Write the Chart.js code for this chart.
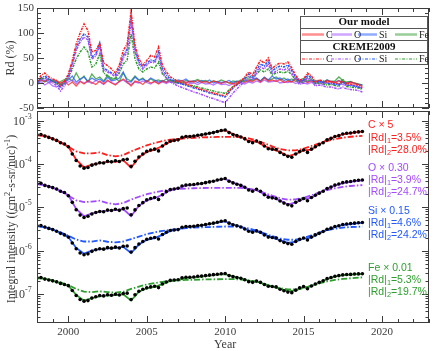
<!DOCTYPE html>
<html>
<head>
<meta charset="utf-8">
<script src="https://cdn.jsdelivr.net/npm/chart.js@4/dist/chart.umd.min.js"></script>
<style>
html, body { margin: 0; padding: 0; background: #fff; }
#wrap { position: relative; width: 436px; height: 351px; }
#wrap canvas { position: absolute; left: 0; top: 0; }
</style>
</head>
<body>
<div id="wrap">
  <canvas id="lower" width="436" height="351"></canvas>
  <canvas id="upper" width="436" height="351"></canvas>
</div>
<script>
// time grids (quarterly for observations / Rd, half-yearly for model curves)
const QUARTERS = Array.from({length: 84}, (_, i) => 1998 + i * 0.25);
const HALVES = Array.from({length: 42}, (_, i) => 1998 + i * 0.5).concat([2018.75]);

// ---- upper panel: Rd (%) ----
const RD_C_MODEL = [4, 6, 3, 8, 2, 5, 0, 4, -4, 2, -6, 3, -2, 5, 1, -3, 4, -2, 6, 0, -4, 3, 8, 2,
  -6, 4, 2, -3, 5, 0, 3, -2, 4, 1, 6, 2, 3, 5, 0, 4, 2, 5, 1, 3, 0, 4, 2, -1,
  3, 0, -2, 2, 4, 1, 5, 3, 8, 2, 10, 4, 6, 3, 7, 1, 4, 2, 8, 3, 5, 1, 4, 2,
  3, 0, 5, 2, 1, 4, 2, -1, 2, 0, -3, -6];
const RD_O_MODEL = [-2, 3, -4, 1, -6, -8, -3, 0, 2, 6, -2, 4, 0, 3, -1, 5, 2, -3, 4, 1, -2, 3, 6, 0,
  -3, 2, 0, 4, 1, -2, 3, 0, 2, -1, 3, 0, 1, -2, 2, -1, 0, -3, 1, -2, -1, -4, 0, -3,
  -2, -5, -1, -3, 0, -2, 2, 0, 4, 1, 6, 2, 3, 5, 0, 2, 1, 3, -1, 2, 0, -2, 1, -1,
  0, -3, 1, -2, -4, -1, -3, -5, -4, -6, -8, -10];
const RD_SI_MODEL = [2, 8, 5, 1, 6, 3, -2, 4, 6, 14, 2, 8, 12, 3, 10, 5, 8, 2, 12, 4, 6, 10, 22, 3,
  2, 12, 5, 8, 3, 10, 6, 2, 5, 2, 7, 3, 6, 4, 8, 2, 4, 1, 5, 2, 6, 0, 3, 1,
  2, 5, 0, 4, 1, 6, 3, 8, 10, 4, 12, 6, 14, 8, 10, 5, 8, 3, 10, 4, 6, 2, 5, 3,
  4, 1, 6, 3, 2, 5, 1, 0, 2, -1, -3, -4];
const RD_FE_MODEL = [0, 6, 2, 8, 4, -2, 3, 7, 10, 4, 20, 6, 14, 2, 18, 8, 12, 4, 16, 6, 10, 3, 20, 8,
  4, 14, 6, 10, 2, 8, 4, 6, 3, 8, 2, 6, 4, 1, 5, 2, 4, 7, 3, 5, 1, 4, 2, 6,
  3, 0, 4, 2, 6, 3, 8, 5, 9, 4, 11, 6, 8, 12, 6, 10, 5, 8, 3, 6, 9, 4, 7, 3,
  5, 2, 6, 3, 4, 12, 5, 2, 3, 0, -2, -4];

const RD_C_CREME = [2, 15, 20, 12, 8, 5, -6, 3, 18, 45, 78, 100, 118, 105, 62, 65,
  80, 40, 35, 28, 20, 36, 65, 78, 143, 75, 48, 36, 45, 55, 52, 72,
  35, 22, 12, 8, 2, 1, -2, -5, -8, -10, -13, -15, -18, -20, -22, -24,
  -26, -16, -8, -2, 4, 12, 22, 16, 32, 45, 40, 50, 29, 36, 40, 38,
  42, 30, 15, 6, 8, 20, 14, 3, 6, 4, 2, 3, 1, -2, 4, -1, -2, -3, -5, -9];
const RD_O_CREME = [-4, 6, 10, 4, 0, -5, -16, -6, 10, 35, 65, 82, 92, 86, 48, 54,
  74, 26, 22, 18, 12, 26, 50, 62, 122, 62, 38, 28, 36, 42, 40, 56,
  22, 10, 2, -2, -6, -9, -12, -15, -18, -20, -23, -26, -29, -31, -34, -37,
  -39, -30, -20, -12, -4, 4, 12, 6, 20, 32, 28, 38, 18, 24, 28, 26,
  30, 20, 6, -3, 0, 10, 4, -6, -4, -6, -8, -8, -10, -12, -8, -12, -13, -14, -15, -18];
const RD_SI_CREME = [0, 10, 14, 8, 4, 0, -10, 0, 15, 40, 70, 88, 98, 92, 52, 58,
  80, 30, 25, 20, 16, 30, 55, 68, 132, 68, 42, 32, 40, 46, 44, 62,
  28, 16, 8, 4, 0, -2, -5, -7, -10, -12, -15, -17, -20, -22, -24, -26,
  -28, -19, -10, -4, 2, 10, 18, 12, 26, 38, 34, 44, 24, 30, 34, 32,
  36, 25, 12, 3, 5, 16, 10, 0, 3, 1, -1, 0, -2, -4, 2, -4, -5, -6, -8, -12];
const RD_FE_CREME = [2, 8, 10, 6, 4, 2, -5, 2, 10, 28, 48, 62, 72, 62, 32, 38,
  58, 20, 14, 10, 8, 20, 38, 46, 98, 48, 28, 22, 28, 32, 30, 42,
  18, 10, 5, 2, 0, -1, -3, -4, -6, -8, -10, -12, -14, -16, -18, -19,
  -21, -14, -7, -2, 2, 8, 14, 10, 18, 26, 22, 28, 16, 20, 22, 20,
  24, 16, 6, 0, 2, 12, 6, -2, 0, -2, -4, -3, -5, -7, 8, -7, -8, -9, -10, -13];

// ---- lower panel: integral intensity (scaled) ----
const C_OBS = [4.7e-4, 4.8e-4, 4.4e-4, 4.1e-4, 3.8e-4, 3.5e-4, 3.1e-4, 2.9e-4,
  2.5e-4, 1.7e-4, 1.2e-4, 9.0e-5, 8.0e-5, 8.3e-5, 9.4e-5, 1.0e-4,
  1.07e-4, 1.05e-4, 1.15e-4, 1.12e-4, 1.19e-4, 1.14e-4, 1.25e-4, 1.28e-4,
  8.8e-5, 1.15e-4, 1.45e-4, 1.7e-4, 1.95e-4, 2.1e-4, 2.2e-4, 2.0e-4,
  2.6e-4, 3.0e-4, 3.35e-4, 3.5e-4, 3.6e-4, 4.1e-4, 4.3e-4, 4.3e-4,
  4.4e-4, 4.6e-4, 4.7e-4, 4.9e-4, 5.1e-4, 5.3e-4, 5.6e-4, 5.9e-4,
  6.1e-4, 5.3e-4, 4.8e-4, 4.5e-4, 4.2e-4, 3.8e-4, 3.3e-4, 3.1e-4,
  3.4e-4, 3.1e-4, 2.6e-4, 2.25e-4, 2.2e-4, 2.15e-4, 1.85e-4, 1.65e-4,
  1.5e-4, 1.43e-4, 1.7e-4, 1.93e-4, 2.1e-4, 1.85e-4, 2.2e-4, 2.5e-4,
  2.8e-4, 3.1e-4, 3.6e-4, 3.9e-4, 4.3e-4, 4.5e-4, 4.9e-4, 5.1e-4,
  5.2e-4, 5.4e-4, 5.5e-4, 5.6e-4];
const O_OBS = [3.5e-5, 3.6e-5, 3.2e-5, 3.0e-5, 2.85e-5, 2.65e-5, 2.35e-5, 2.2e-5,
  1.85e-5, 1.3e-5, 8.8e-6, 6.6e-6, 5.8e-6, 6.2e-6, 7.0e-6, 7.6e-6,
  8.0e-6, 7.9e-6, 8.6e-6, 8.4e-6, 9.0e-6, 8.5e-6, 9.3e-6, 9.6e-6,
  6.7e-6, 8.7e-6, 1.1e-5, 1.28e-5, 1.48e-5, 1.6e-5, 1.68e-5, 1.52e-5,
  1.95e-5, 2.3e-5, 2.55e-5, 2.65e-5, 2.75e-5, 3.1e-5, 3.25e-5, 3.3e-5,
  3.35e-5, 3.5e-5, 3.55e-5, 3.7e-5, 3.85e-5, 4.0e-5, 4.25e-5, 4.45e-5,
  4.6e-5, 4.0e-5, 3.65e-5, 3.4e-5, 3.2e-5, 2.9e-5, 2.5e-5, 2.35e-5,
  2.6e-5, 2.35e-5, 1.95e-5, 1.7e-5, 1.65e-5, 1.6e-5, 1.4e-5, 1.25e-5,
  1.14e-5, 1.08e-5, 1.3e-5, 1.46e-5, 1.6e-5, 1.42e-5, 1.68e-5, 1.9e-5,
  2.12e-5, 2.35e-5, 2.7e-5, 2.95e-5, 3.25e-5, 3.45e-5, 3.7e-5, 3.85e-5,
  3.95e-5, 4.1e-5, 4.2e-5, 4.25e-5];
const SI_OBS = [3.75e-6, 3.8e-6, 3.5e-6, 3.25e-6, 3.05e-6, 2.8e-6, 2.5e-6, 2.3e-6,
  2.05e-6, 1.5e-6, 1.1e-6, 8.8e-7, 8.0e-7, 8.4e-7, 9.6e-7, 1.05e-6,
  1.1e-6, 1.08e-6, 1.17e-6, 1.14e-6, 1.2e-6, 1.15e-6, 1.26e-6, 1.28e-6,
  9.3e-7, 1.17e-6, 1.42e-6, 1.62e-6, 1.82e-6, 1.92e-6, 2.0e-6, 1.85e-6,
  2.35e-6, 2.65e-6, 2.9e-6, 3.0e-6, 3.05e-6, 3.45e-6, 3.6e-6, 3.6e-6,
  3.65e-6, 3.8e-6, 3.85e-6, 4.0e-6, 4.15e-6, 4.3e-6, 4.5e-6, 4.75e-6,
  4.9e-6, 4.3e-6, 3.95e-6, 3.75e-6, 3.5e-6, 3.15e-6, 2.8e-6, 2.65e-6,
  2.85e-6, 2.65e-6, 2.3e-6, 2.05e-6, 2.0e-6, 1.95e-6, 1.7e-6, 1.55e-6,
  1.45e-6, 1.4e-6, 1.62e-6, 1.82e-6, 1.95e-6, 1.75e-6, 2.05e-6, 2.3e-6,
  2.5e-6, 2.75e-6, 3.1e-6, 3.3e-6, 3.6e-6, 3.75e-6, 4.0e-6, 4.1e-6,
  4.2e-6, 4.3e-6, 4.4e-6, 4.45e-6];
const FE_OBS = [2.35e-7, 2.4e-7, 2.2e-7, 2.1e-7, 2.0e-7, 1.9e-7, 1.75e-7, 1.65e-7,
  1.55e-7, 1.2e-7, 9.2e-8, 7.4e-8, 6.8e-8, 7.0e-8, 8.0e-8, 8.6e-8,
  9.2e-8, 9.0e-8, 9.6e-8, 9.3e-8, 9.8e-8, 9.4e-8, 1.02e-7, 1.04e-7,
  7.4e-8, 9.6e-8, 1.15e-7, 1.28e-7, 1.38e-7, 1.45e-7, 1.5e-7, 1.4e-7,
  1.7e-7, 1.88e-7, 2.05e-7, 2.1e-7, 2.12e-7, 2.35e-7, 2.42e-7, 2.42e-7,
  2.45e-7, 2.55e-7, 2.58e-7, 2.65e-7, 2.72e-7, 2.78e-7, 2.85e-7, 2.92e-7,
  2.95e-7, 2.65e-7, 2.5e-7, 2.4e-7, 2.3e-7, 2.12e-7, 1.92e-7, 1.85e-7,
  1.98e-7, 1.85e-7, 1.65e-7, 1.5e-7, 1.48e-7, 1.45e-7, 1.28e-7, 1.18e-7,
  1.1e-7, 1.07e-7, 1.22e-7, 1.38e-7, 1.48e-7, 1.32e-7, 1.52e-7, 1.7e-7,
  1.85e-7, 2.0e-7, 2.25e-7, 2.4e-7, 2.55e-7, 2.65e-7, 2.75e-7, 2.8e-7,
  2.82e-7, 2.88e-7, 2.9e-7, 2.92e-7];

const C_MODEL = [4.6e-4, 4.5e-4, 3.8e-4, 3.2e-4, 2.5e-4, 1.25e-4, 8.3e-5, 9.6e-5, 1.05e-4, 1.12e-4, 1.12e-4,
  1.22e-4, 8.2e-5, 1.42e-4, 1.9e-4, 2.15e-4, 2.6e-4, 3.3e-4, 3.65e-4, 4.25e-4, 4.4e-4, 4.7e-4, 5.1e-4,
  5.6e-4, 6.0e-4, 4.9e-4, 4.25e-4, 3.4e-4, 3.3e-4, 2.6e-4, 2.2e-4, 1.9e-4, 1.5e-4, 1.7e-4, 2.05e-4,
  2.15e-4, 2.8e-4, 3.6e-4, 4.25e-4, 4.85e-4, 5.15e-4, 5.5e-4, 5.55e-4];
const O_MODEL = [3.45e-5, 3.25e-5, 2.8e-5, 2.4e-5, 1.9e-5, 9.2e-6, 6.2e-6, 7.2e-6, 7.9e-6, 8.4e-6, 8.6e-6,
  9.1e-6, 6.2e-6, 1.08e-5, 1.45e-5, 1.62e-5, 1.95e-5, 2.5e-5, 2.75e-5, 3.2e-5, 3.3e-5, 3.5e-5, 3.85e-5,
  4.2e-5, 4.5e-5, 3.7e-5, 3.25e-5, 2.6e-5, 2.5e-5, 1.97e-5, 1.68e-5, 1.42e-5, 1.15e-5, 1.3e-5, 1.55e-5,
  1.65e-5, 2.1e-5, 2.7e-5, 3.15e-5, 3.6e-5, 3.85e-5, 4.1e-5, 4.2e-5];
const SI_MODEL = [3.7e-6, 3.45e-6, 3.1e-6, 2.55e-6, 2.05e-6, 1.15e-6, 8.5e-7, 1.0e-6, 1.08e-6, 1.12e-6, 1.15e-6,
  1.22e-6, 8.8e-7, 1.38e-6, 1.78e-6, 1.95e-6, 2.3e-6, 2.85e-6, 3.1e-6, 3.5e-6, 3.6e-6, 3.8e-6, 4.1e-6,
  4.4e-6, 4.7e-6, 4.0e-6, 3.55e-6, 2.9e-6, 2.8e-6, 2.35e-6, 2.0e-6, 1.75e-6, 1.5e-6, 1.6e-6, 1.9e-6,
  2.0e-6, 2.5e-6, 3.05e-6, 3.5e-6, 3.9e-6, 4.1e-6, 4.3e-6, 4.35e-6];
const FE_MODEL = [2.3e-7, 2.25e-7, 2.0e-7, 1.78e-7, 1.55e-7, 9.5e-8, 7.0e-8, 8.0e-8, 8.8e-8, 9.2e-8, 9.4e-8,
  9.8e-8, 7.0e-8, 1.12e-7, 1.35e-7, 1.45e-7, 1.68e-7, 2.0e-7, 2.1e-7, 2.35e-7, 2.4e-7, 2.5e-7, 2.65e-7,
  2.78e-7, 2.85e-7, 2.55e-7, 2.3e-7, 2.0e-7, 1.95e-7, 1.68e-7, 1.5e-7, 1.3e-7, 1.15e-7, 1.2e-7, 1.42e-7,
  1.5e-7, 1.82e-7, 2.2e-7, 2.5e-7, 2.7e-7, 2.78e-7, 2.85e-7, 2.88e-7];

const C_CREME = [4.7e-4, 4.4e-4, 3.8e-4, 3.1e-4, 2.5e-4, 1.95e-4, 1.75e-4, 1.75e-4, 1.85e-4, 1.6e-4, 1.5e-4,
  1.6e-4, 1.95e-4, 2.3e-4, 2.7e-4, 3.05e-4, 3.4e-4, 3.65e-4, 3.8e-4, 3.9e-4, 4.0e-4, 4.1e-4, 4.15e-4,
  4.2e-4, 4.2e-4, 4.2e-4, 4.15e-4, 3.9e-4, 3.5e-4, 3.0e-4, 2.55e-4, 2.2e-4, 2.05e-4, 2.05e-4, 2.25e-4,
  2.6e-4, 3.0e-4, 3.4e-4, 3.75e-4, 4.05e-4, 4.25e-4, 4.4e-4, 4.45e-4];
const O_CREME = [3.5e-5, 3.25e-5, 2.85e-5, 2.35e-5, 1.85e-5, 1.45e-5, 1.32e-5, 1.35e-5, 1.42e-5, 1.25e-5, 1.17e-5,
  1.25e-5, 1.5e-5, 1.75e-5, 2.0e-5, 2.2e-5, 2.4e-5, 2.55e-5, 2.65e-5, 2.7e-5, 2.75e-5, 2.78e-5, 2.8e-5,
  2.82e-5, 2.82e-5, 2.82e-5, 2.8e-5, 2.7e-5, 2.45e-5, 2.15e-5, 1.85e-5, 1.62e-5, 1.5e-5, 1.52e-5, 1.65e-5,
  1.9e-5, 2.2e-5, 2.5e-5, 2.75e-5, 2.95e-5, 3.1e-5, 3.2e-5, 3.25e-5];
const SI_CREME = [3.75e-6, 3.5e-6, 3.1e-6, 2.65e-6, 2.2e-6, 1.8e-6, 1.62e-6, 1.62e-6, 1.72e-6, 1.6e-6, 1.55e-6,
  1.62e-6, 1.85e-6, 2.1e-6, 2.4e-6, 2.65e-6, 2.85e-6, 3.0e-6, 3.15e-6, 3.3e-6, 3.4e-6, 3.45e-6, 3.5e-6,
  3.55e-6, 3.6e-6, 3.6e-6, 3.5e-6, 3.25e-6, 2.9e-6, 2.5e-6, 2.15e-6, 1.9e-6, 1.78e-6, 1.78e-6, 1.95e-6,
  2.25e-6, 2.6e-6, 2.95e-6, 3.2e-6, 3.4e-6, 3.5e-6, 3.55e-6, 3.6e-6];
const FE_CREME = [2.35e-7, 2.25e-7, 2.05e-7, 1.85e-7, 1.6e-7, 1.3e-7, 1.13e-7, 1.1e-7, 1.15e-7, 1.1e-7, 1.07e-7,
  1.12e-7, 1.3e-7, 1.48e-7, 1.65e-7, 1.78e-7, 1.9e-7, 2.0e-7, 2.05e-7, 2.1e-7, 2.12e-7, 2.15e-7, 2.17e-7,
  2.18e-7, 2.2e-7, 2.2e-7, 2.15e-7, 2.05e-7, 1.88e-7, 1.68e-7, 1.5e-7, 1.35e-7, 1.27e-7, 1.27e-7, 1.35e-7,
  1.55e-7, 1.75e-7, 1.95e-7, 2.1e-7, 2.22e-7, 2.3e-7, 2.38e-7, 2.4e-7];

const X_TICKS = [2000, 2005, 2010, 2015, 2020];
const Y_TICKS_RD = [-50, 0, 50, 100, 150];
const Y_DECADES = [-3, -4, -5, -6, -7];
const NOTES = [
  ['C \u00d7 5', '3.5%', '28.0%'],
  ['O \u00d7 0.30', '3.9%', '24.7%'],
  ['Si \u00d7 0.15', '4.6%', '24.2%'],
  ['Fe \u00d7 0.01', '5.3%', '19.7%']
];

// colours
const RED = '#ff1f1f', PURPLE = '#a24bff', BLUE = '#2158ff', GREEN = '#2f9e2f';
const COLORS = [RED, PURPLE, BLUE, GREEN];
const SOFT = ['rgba(255,31,31,0.5)', 'rgba(162,75,255,0.5)', 'rgba(33,88,255,0.5)', 'rgba(47,158,47,0.5)'];
const MODEL_TOP = ['rgba(255,31,31,0.75)', 'rgba(162,75,255,0.75)', 'rgba(33,88,255,0.75)', 'rgba(47,158,47,0.8)'];
const AX = '#3c3c3c';
const SERIF = '"Liberation Serif", "DejaVu Serif", serif';
const SANS = '"Liberation Sans", Arial, sans-serif';

const pts = (xs, ys) => ys.map((v, i) => ({x: xs[i], y: v}));

function seg(ctx, x1, y1, x2, y2) {
  ctx.beginPath(); ctx.moveTo(x1, y1); ctx.lineTo(x2, y2); ctx.stroke();
}

// draws runs of text with sub/superscripts, left aligned
function rich(ctx, parts, x, y, base, family) {
  let cx = x;
  parts.forEach(p => {
    ctx.font = (p.s ? base * 0.7 : base) + 'px ' + family;
    ctx.fillText(p.t, cx, y + (p.s === 'sup' ? -base * 0.35 : p.s === 'sub' ? base * 0.3 : 0));
    cx += ctx.measureText(p.t).width;
  });
  return cx - x;
}
function richWidth(ctx, parts, base, family) {
  let w = 0;
  parts.forEach(p => {
    ctx.font = (p.s ? base * 0.7 : base) + 'px ' + family;
    w += ctx.measureText(p.t).width;
  });
  return w;
}

function frameAndX(ctx, a, xs) {
  ctx.strokeStyle = AX; ctx.lineWidth = 1;
  ctx.strokeRect(Math.round(a.left) + 0.5, Math.round(a.top) + 0.5,
    Math.round(a.right - a.left) - 1, Math.round(a.bottom - a.top) - 1);
  for (let yr = 1998; yr <= 2023; yr++) {
    const px = Math.round(xs.getPixelForValue(yr)) + 0.5;
    const len = yr % 5 === 0 ? 7 : 4;
    seg(ctx, px, a.bottom, px, a.bottom - len);
    seg(ctx, px, a.top, px, a.top + len);
  }
}

const upperDeco = {
  id: 'upperDeco',
  afterDatasetsDraw(chart) {
    const {ctx, chartArea: a, scales: {x, y}} = chart;
    ctx.save();
    frameAndX(ctx, a, x);
    for (let v = -50; v <= 150; v += 10) {
      const py = Math.round(y.getPixelForValue(v)) + 0.5;
      const len = v % 50 === 0 ? 7 : 4;
      seg(ctx, a.left, py, a.left + len, py);
      seg(ctx, a.right, py, a.right - len, py);
    }
    ctx.fillStyle = AX;
    ctx.font = '11px ' + SERIF;
    ctx.textAlign = 'right'; ctx.textBaseline = 'middle';
    Y_TICKS_RD.forEach(v => ctx.fillText(String(v), a.left - 3, y.getPixelForValue(v)));
    ctx.save();
    ctx.translate(11, (a.top + a.bottom) / 2);
    ctx.rotate(-Math.PI / 2);
    ctx.textAlign = 'center';
    ctx.font = '12px ' + SERIF;
    ctx.fillText('Rd (%)', 0, 0);
    ctx.restore();

    // legend table
    const L = 300, R = 428, T = 16;
    ctx.fillStyle = '#fff';
    ctx.fillRect(L, T, R - L, 49);
    ctx.strokeStyle = '#555';
    ctx.strokeRect(L + 0.5, T + 0.5, R - L - 1, 48);
    [28.5, 40.5, 52.5].forEach(ly => seg(ctx, L, ly, R, ly));
    ctx.fillStyle = '#111';
    ctx.textAlign = 'center'; ctx.textBaseline = 'middle';
    ctx.font = 'bold 11px ' + SERIF;
    ctx.fillText('Our model', (L + R) / 2, 22.5);
    ctx.fillText('CREME2009', (L + R) / 2, 47);
    const items = [['C', 302, 324, 326], ['O', 331, 352, 354], ['Si', 358, 377, 379], ['Fe', 395, 417, 419]];
    ctx.font = '10px ' + SERIF;
    ctx.textAlign = 'left';
    items.forEach((it, i) => {
      ctx.setLineDash([]);
      ctx.lineWidth = 2.5; ctx.strokeStyle = SOFT[i];
      seg(ctx, it[1], 34.5, it[2], 34.5);
      ctx.lineWidth = 1; ctx.strokeStyle = COLORS[i];
      ctx.setLineDash([3, 1.5, 1, 1.5]);
      seg(ctx, it[1], 59, it[2], 59);
      ctx.setLineDash([]);
      ctx.fillStyle = '#222';
      ctx.fillText(it[0], it[3], 35);
      ctx.fillText(it[0], it[3], 59.5);
    });
    ctx.restore();
  }
};

const lowerDeco = {
  id: 'lowerDeco',
  afterDatasetsDraw(chart) {
    const {ctx, chartArea: a, scales: {x, y}} = chart;
    ctx.save();
    frameAndX(ctx, a, x);
    for (let e = -8; e <= -3; e++) {
      for (let k = 1; k <= 9; k++) {
        const v = k * Math.pow(10, e);
        if (v < y.min || v > y.max) continue;
        const py = Math.round(y.getPixelForValue(v)) + 0.5;
        const len = k === 1 ? 7 : 3.5;
        seg(ctx, a.left, py, a.left + len, py);
        seg(ctx, a.right, py, a.right - len, py);
      }
    }
    ctx.fillStyle = AX;
    ctx.textBaseline = 'middle';
    ctx.textAlign = 'right';
    Y_DECADES.forEach(e => {
      const py = y.getPixelForValue(Math.pow(10, e));
      ctx.font = '12px ' + SERIF;
      ctx.fillText('10', a.left - 12, py + 1);
      ctx.font = '8px ' + SERIF;
      ctx.textAlign = 'left';
      ctx.fillText(String(e), a.left - 12, py - 4);
      ctx.textAlign = 'right';
    });
    ctx.textAlign = 'center'; ctx.textBaseline = 'top';
    ctx.font = '11px ' + SERIF;
    X_TICKS.forEach(t => ctx.fillText(String(t), x.getPixelForValue(t), a.bottom + 4));
    ctx.font = '12px ' + SERIF;
    ctx.fillText('Year', x.getPixelForValue(2010), a.bottom + 16);

    // rotated y title with superscripts
    const title = [{t: 'Integral intensity ((cm'}, {t: '2', s: 'sup'}, {t: '-s-sr/nuc)'}, {t: '-1', s: 'sup'}, {t: ')'}];
    ctx.save();
    ctx.translate(12, (a.top + a.bottom) / 2 + 2);
    ctx.rotate(-Math.PI / 2);
    ctx.textAlign = 'left'; ctx.textBaseline = 'middle';
    const w = richWidth(ctx, title, 12, SERIF);
    rich(ctx, title, -w / 2, 0, 12, SERIF);
    ctx.restore();

    // per-element notes
    ctx.textAlign = 'left'; ctx.textBaseline = 'middle';
    const rows = [[125, 138, 150], [168, 180, 192], [211, 223, 235], [268, 280, 292]];
    NOTES.forEach((n, i) => {
      ctx.fillStyle = COLORS[i];
      ctx.font = '10.5px ' + SANS;
      ctx.fillText(n[0], 368, rows[i][0]);
      rich(ctx, [{t: '|Rd|'}, {t: '1', s: 'sub'}, {t: '=' + n[1]}], 368, rows[i][1], 10.5, SANS);
      rich(ctx, [{t: '|Rd|'}, {t: '2', s: 'sub'}, {t: '=' + n[2]}], 368, rows[i][2], 10.5, SANS);
    });
    ctx.restore();
  }
};

const baseOpts = (pad, yScale) => ({
  responsive: false,
  animation: false,
  events: [],
  layout: {padding: pad},
  plugins: {legend: {display: false}, tooltip: {enabled: false}},
  elements: {point: {radius: 0}, line: {tension: 0}},
  scales: {
    x: {type: 'linear', min: 1998, max: 2023, display: false},
    y: Object.assign({display: false}, yScale)
  }
});

// upper chart
const upperSets = [];
[RD_C_MODEL, RD_O_MODEL, RD_SI_MODEL, RD_FE_MODEL].forEach((d, i) => upperSets.push({
  data: pts(QUARTERS, d), borderColor: MODEL_TOP[i], borderWidth: 1.3, order: 2
}));
[RD_C_CREME, RD_O_CREME, RD_SI_CREME, RD_FE_CREME].forEach((d, i) => upperSets.push({
  data: pts(QUARTERS, d), borderColor: COLORS[i], borderWidth: 1.5, borderDash: [2.5, 1, 1, 1], order: 1
}));
new Chart(document.getElementById('upper'), {
  type: 'line',
  data: {datasets: upperSets},
  options: baseOpts({left: 37, right: 7, top: 8, bottom: 243}, {type: 'linear', min: -50, max: 150}),
  plugins: [upperDeco]
});

// lower chart
const lowerSets = [];
[C_CREME, O_CREME, SI_CREME, FE_CREME].forEach((d, i) => lowerSets.push({
  data: pts(HALVES, d), borderColor: COLORS[i], borderWidth: 1.8, borderDash: [6, 2, 1.5, 2], order: 3
}));
[C_MODEL, O_MODEL, SI_MODEL, FE_MODEL].forEach((d, i) => lowerSets.push({
  data: pts(HALVES, d), borderColor: COLORS[i], borderWidth: 1.8, order: 2
}));
[C_OBS, O_OBS, SI_OBS, FE_OBS].forEach(d => lowerSets.push({
  data: pts(QUARTERS, d), showLine: false, pointRadius: 1.8, pointBackgroundColor: '#000',
  pointBorderWidth: 0, order: 1
}));
new Chart(document.getElementById('lower'), {
  type: 'line',
  data: {datasets: lowerSets},
  options: baseOpts({left: 37, right: 7, top: 111, bottom: 28}, {type: 'logarithmic', min: 2.13e-8, max: 1.67e-3}),
  plugins: [lowerDeco]
});
</script>
</body>
</html>
